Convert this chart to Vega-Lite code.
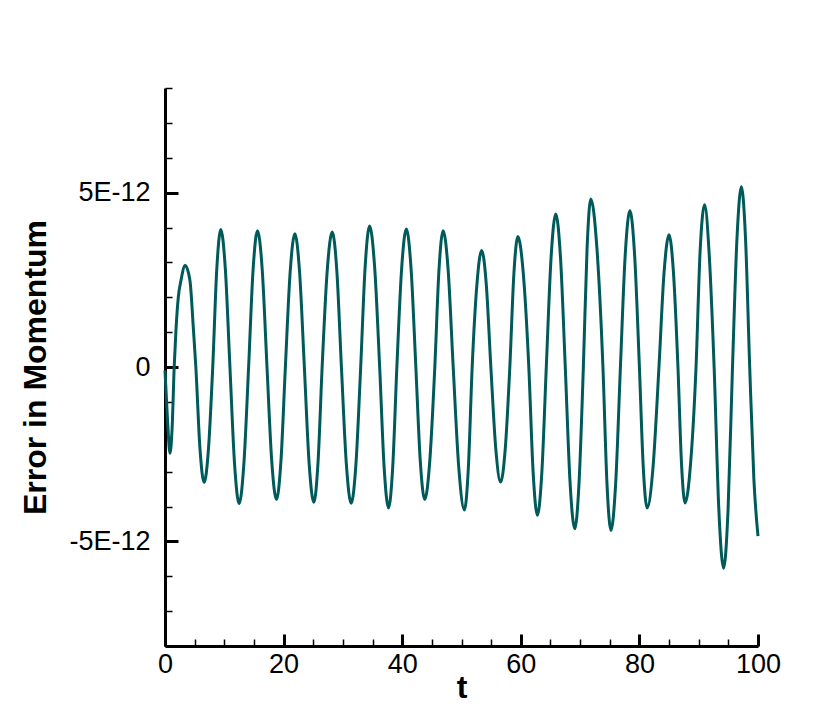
{
  "$schema": "https://vega.github.io/schema/vega-lite/v6.json",
  "width": 593,
  "height": 558,
  "autosize": {"type": "none"},
  "padding": {"left": 165, "top": 88, "right": 60, "bottom": 81},
  "background": "white",
  "config": {"view": {"stroke": null}},
  "data": {"values": [
    {"t": 0, "error": -0.1e-12},
    {"t": 0.45, "error": -1.6e-12},
    {"t": 0.84, "error": -2.47e-12},
    {"t": 1.2, "error": -1.75e-12},
    {"t": 1.55, "error": 0},
    {"t": 1.85, "error": 1.06e-12},
    {"t": 2.25, "error": 2.01e-12},
    {"t": 2.7, "error": 2.49e-12},
    {"t": 3.4, "error": 2.91e-12},
    {"t": 4.2, "error": 2.49e-12},
    {"t": 4.8, "error": 1.06e-12},
    {"t": 5.2, "error": 0},
    {"t": 5.9, "error": -2.35e-12},
    {"t": 6.6, "error": -3.31e-12},
    {"t": 7.33, "error": -2.35e-12},
    {"t": 8.05, "error": 0},
    {"t": 8.73, "error": 2.8e-12},
    {"t": 9.4, "error": 3.94e-12},
    {"t": 10.18, "error": 2.8e-12},
    {"t": 10.95, "error": 0},
    {"t": 11.73, "error": -2.78e-12},
    {"t": 12.5, "error": -3.92e-12},
    {"t": 13.3, "error": -2.78e-12},
    {"t": 14.1, "error": 0},
    {"t": 14.85, "error": 2.78e-12},
    {"t": 15.6, "error": 3.91e-12},
    {"t": 16.4, "error": 2.78e-12},
    {"t": 17.2, "error": 0},
    {"t": 18.0, "error": -2.7e-12},
    {"t": 18.8, "error": -3.8e-12},
    {"t": 19.55, "error": -2.7e-12},
    {"t": 20.3, "error": 0},
    {"t": 21.1, "error": 2.71e-12},
    {"t": 21.9, "error": 3.82e-12},
    {"t": 22.7, "error": 2.71e-12},
    {"t": 23.5, "error": 0},
    {"t": 24.3, "error": -2.75e-12},
    {"t": 25.1, "error": -3.88e-12},
    {"t": 25.8, "error": -2.75e-12},
    {"t": 26.5, "error": 0},
    {"t": 27.35, "error": 2.75e-12},
    {"t": 28.2, "error": 3.87e-12},
    {"t": 28.98, "error": 2.75e-12},
    {"t": 29.75, "error": 0},
    {"t": 30.58, "error": -2.78e-12},
    {"t": 31.4, "error": -3.91e-12},
    {"t": 32.2, "error": -2.78e-12},
    {"t": 33.0, "error": 0},
    {"t": 33.75, "error": 2.87e-12},
    {"t": 34.5, "error": 4.04e-12},
    {"t": 35.35, "error": 2.87e-12},
    {"t": 36.2, "error": 0},
    {"t": 36.95, "error": -2.87e-12},
    {"t": 37.7, "error": -4.04e-12},
    {"t": 38.4, "error": -2.87e-12},
    {"t": 39.1, "error": 0},
    {"t": 39.9, "error": 2.81e-12},
    {"t": 40.7, "error": 3.96e-12},
    {"t": 41.5, "error": 2.81e-12},
    {"t": 42.3, "error": 0},
    {"t": 43.05, "error": -2.7e-12},
    {"t": 43.8, "error": -3.8e-12},
    {"t": 44.65, "error": -2.7e-12},
    {"t": 45.5, "error": 0},
    {"t": 46.2, "error": 2.78e-12},
    {"t": 46.9, "error": 3.91e-12},
    {"t": 47.75, "error": 2.78e-12},
    {"t": 48.6, "error": 0},
    {"t": 49.55, "error": -2.91e-12},
    {"t": 50.5, "error": -4.1e-12},
    {"t": 51.15, "error": -2.91e-12},
    {"t": 51.8, "error": 0},
    {"t": 52.6, "error": 2.37e-12},
    {"t": 53.4, "error": 3.34e-12},
    {"t": 54.18, "error": 2.37e-12},
    {"t": 54.95, "error": 0},
    {"t": 55.78, "error": -2.34e-12},
    {"t": 56.6, "error": -3.3e-12},
    {"t": 57.38, "error": -2.34e-12},
    {"t": 58.15, "error": 0},
    {"t": 58.83, "error": 2.66e-12},
    {"t": 59.5, "error": 3.74e-12},
    {"t": 60.43, "error": 2.66e-12},
    {"t": 61.35, "error": 0},
    {"t": 62.08, "error": -3.02e-12},
    {"t": 62.8, "error": -4.25e-12},
    {"t": 63.55, "error": -3.02e-12},
    {"t": 64.3, "error": 0},
    {"t": 65.1, "error": 3.12e-12},
    {"t": 65.9, "error": 4.39e-12},
    {"t": 66.7, "error": 3.12e-12},
    {"t": 67.5, "error": 0},
    {"t": 68.3, "error": -3.29e-12},
    {"t": 69.1, "error": -4.64e-12},
    {"t": 69.83, "error": -3.29e-12},
    {"t": 70.55, "error": 0},
    {"t": 71.18, "error": 3.42e-12},
    {"t": 71.8, "error": 4.82e-12},
    {"t": 72.83, "error": 3.42e-12},
    {"t": 73.85, "error": 0},
    {"t": 74.53, "error": -3.33e-12},
    {"t": 75.2, "error": -4.69e-12},
    {"t": 76.0, "error": -3.33e-12},
    {"t": 76.8, "error": 0},
    {"t": 77.6, "error": 3.19e-12},
    {"t": 78.4, "error": 4.49e-12},
    {"t": 79.2, "error": 3.19e-12},
    {"t": 80.0, "error": 0},
    {"t": 80.65, "error": -2.87e-12},
    {"t": 81.3, "error": -4.04e-12},
    {"t": 82.3, "error": -2.87e-12},
    {"t": 83.3, "error": 0},
    {"t": 84.15, "error": 2.69e-12},
    {"t": 85.0, "error": 3.79e-12},
    {"t": 85.75, "error": 2.69e-12},
    {"t": 86.5, "error": 0},
    {"t": 87.1, "error": -2.77e-12},
    {"t": 87.7, "error": -3.9e-12},
    {"t": 88.63, "error": -2.77e-12},
    {"t": 89.55, "error": 0},
    {"t": 90.23, "error": 3.29e-12},
    {"t": 91.0, "error": 4.65e-12},
    {"t": 91.75, "error": 3.29e-12},
    {"t": 92.6, "error": 0},
    {"t": 93.4, "error": -4.1e-12},
    {"t": 94.2, "error": -5.77e-12},
    {"t": 94.95, "error": -4.1e-12},
    {"t": 95.7, "error": 0},
    {"t": 96.45, "error": 3.67e-12},
    {"t": 97.2, "error": 5.17e-12},
    {"t": 97.9, "error": 3.67e-12},
    {"t": 98.6, "error": 0},
    {"t": 99.3, "error": -3.2e-12},
    {"t": 100, "error": -4.85e-12}
  ]},
  "layer": [
    {
      "mark": {"type": "line", "interpolate": "monotone", "color": "#005a5a", "strokeWidth": 3},
      "encoding": {
        "x": {
          "field": "t",
          "type": "quantitative",
          "scale": {"domain": [0, 100], "nice": false},
          "axis": {
            "orient": "bottom",
            "title": "t",
            "titleFont": "Liberation Sans",
            "titleFontSize": 32,
            "titleFontWeight": "bold",
            "titleColor": "black",
            "titlePadding": -5,
            "values": [0, 20, 40, 60, 80, 100],
            "labelFont": "Liberation Sans",
            "labelFontSize": 27,
            "labelColor": "black",
            "labelPadding": 17,
            "labelFlush": false,
            "labelOverlap": false,
            "grid": false,
            "domainColor": "black",
            "domainWidth": 3,
            "tickColor": "black",
            "tickSize": -12,
            "tickWidth": 3
          }
        },
        "y": {
          "field": "error",
          "type": "quantitative",
          "scale": {"domain": [-8e-12, 8e-12], "nice": false, "zero": false},
          "axis": {
            "orient": "left",
            "title": "Error in Momentum",
            "titleFont": "Liberation Sans",
            "titleFontSize": 32,
            "titleFontWeight": "bold",
            "titleColor": "black",
            "titlePadding": 16,
            "values": [-5e-12, 0, 5e-12],
            "labelExpr": "round(datum.value * 1e12) === 0 ? '0' : round(datum.value * 1e12) + 'E-12'",
            "labelFont": "Liberation Sans",
            "labelFontSize": 27,
            "labelColor": "black",
            "labelPadding": 28,
            "labelFlush": false,
            "labelOverlap": false,
            "grid": false,
            "domainColor": "black",
            "domainWidth": 3,
            "tickColor": "black",
            "tickSize": -13,
            "tickWidth": 3
          }
        }
      }
    },
    {
      "mark": {"type": "point", "opacity": 0},
      "encoding": {
        "x": {
          "field": "t",
          "type": "quantitative",
          "scale": {"domain": [0, 100], "nice": false},
          "axis": {
            "orient": "bottom",
            "title": null,
            "values": [5, 10, 15, 25, 30, 35, 45, 50, 55, 65, 70, 75, 85, 90, 95],
            "labels": false,
            "domain": false,
            "grid": false,
            "tickColor": "black",
            "tickSize": -7,
            "tickWidth": 1.5
          }
        },
        "y": {
          "field": "error",
          "type": "quantitative",
          "scale": {"domain": [-8e-12, 8e-12], "nice": false, "zero": false},
          "axis": {
            "orient": "left",
            "title": null,
            "values": [-8e-12, -7e-12, -6e-12, -4e-12, -3e-12, -2e-12, -1e-12, 1e-12, 2e-12, 3e-12, 4e-12, 6e-12, 7e-12, 8e-12],
            "labels": false,
            "domain": false,
            "grid": false,
            "tickColor": "black",
            "tickSize": -7,
            "tickWidth": 1.5
          }
        }
      }
    }
  ],
  "resolve": {"scale": {"x": "independent", "y": "independent"}, "axis": {"x": "independent", "y": "independent"}}
}
